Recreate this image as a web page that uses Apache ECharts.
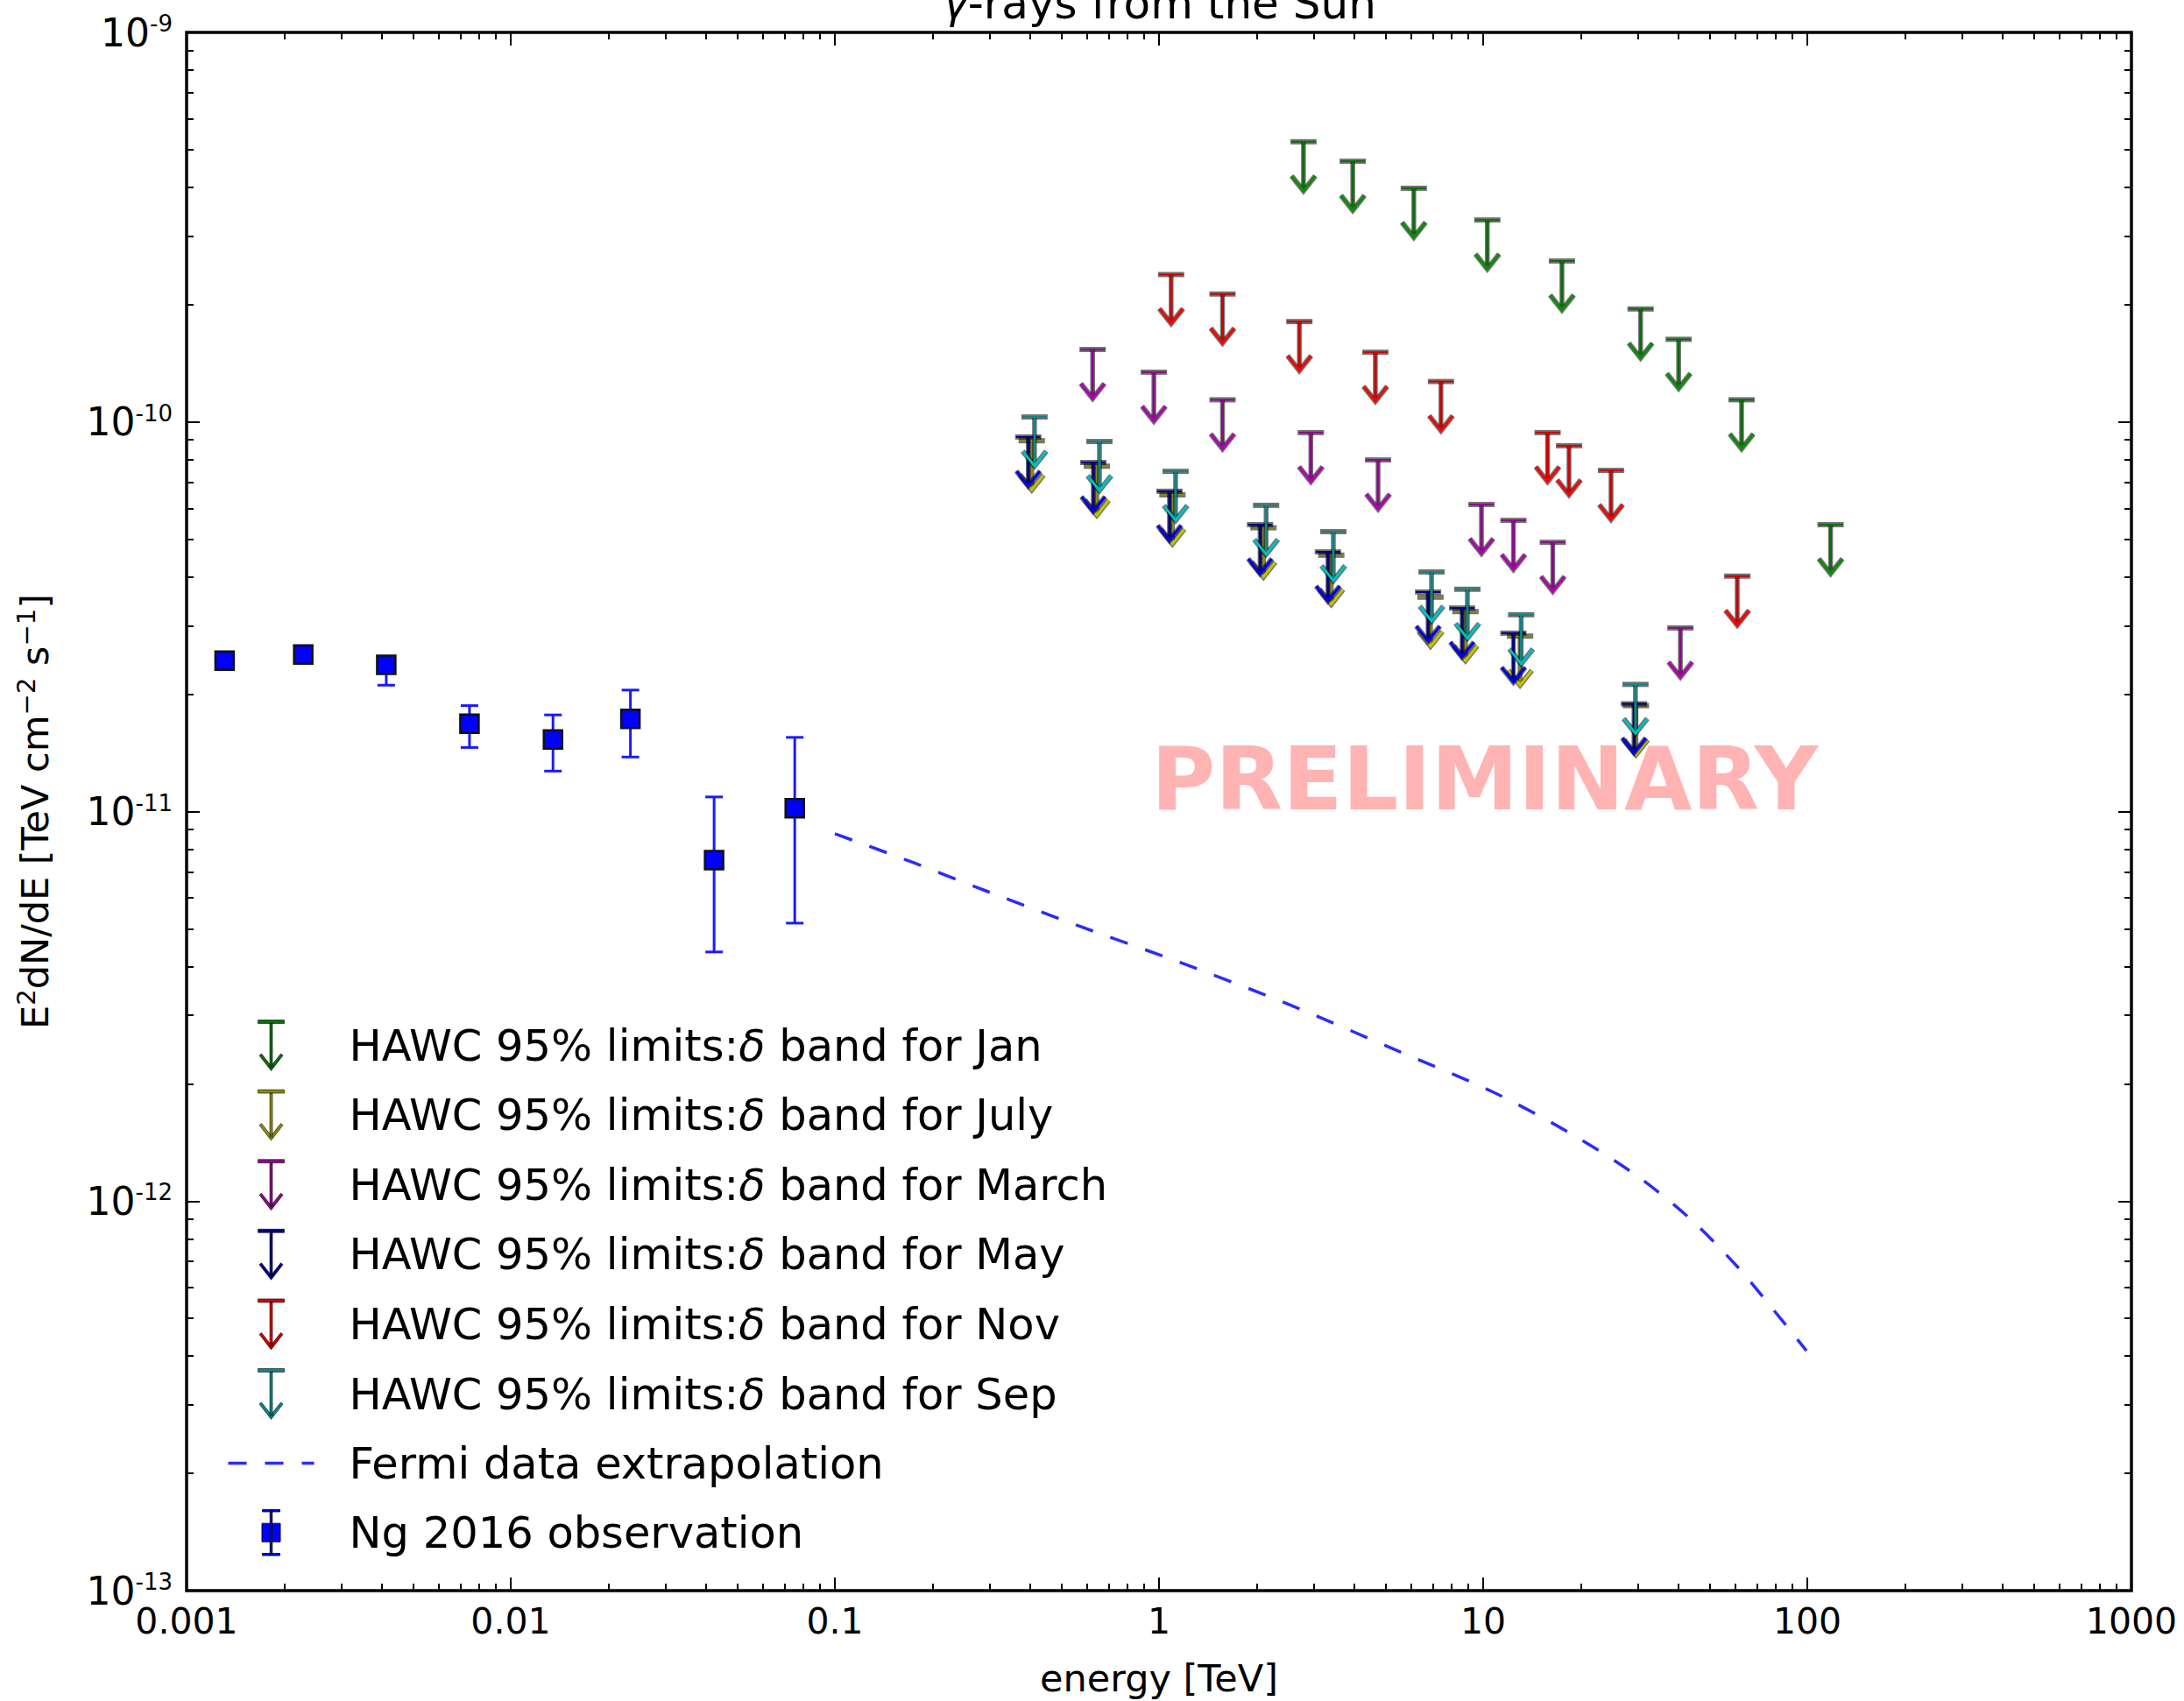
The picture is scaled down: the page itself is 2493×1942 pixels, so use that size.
<!DOCTYPE html>
<html>
<head>
<meta charset="utf-8">
<title>γ-rays from the Sun</title>
<script src="https://cdn.jsdelivr.net/npm/echarts@6.0.0/dist/echarts.min.js"></script>
<style>
  html, body { margin: 0; padding: 0; background: #ffffff; }
  #chart { width: 2493px; height: 1942px; }
</style>
</head>
<body>
<div id="chart"></div>
<script>
// ---- axis ticks ----
const energyTicks = [0.001, 0.01, 0.1, 1, 10, 100, 1000];
const energyTickLabels = ['0.001', '0.01', '0.1', '1', '10', '100', '1000'];
const fluxTicks = [1e-13, 1e-12, 1e-11, 1e-10, 1e-9];
const fluxTickExponents = ['-13', '-12', '-11', '-10', '-9'];
const minorTickSteps = [2, 3, 4, 5, 6, 7, 8, 9];

// ---- HAWC 95% upper limits per delta band: [energy (TeV), E^2 dN/dE] ----
const hawcJan = [[2.79, 5.24e-10], [3.96, 4.67e-10], [6.11, 3.98e-10], [10.3, 3.30e-10], [17.5, 2.59e-10],
                 [30.6, 1.95e-10], [40.1, 1.63e-10], [62.7, 1.14e-10], [118, 5.45e-11]];
const hawcJuly = [[0.405, 8.95e-11], [0.643, 7.70e-11], [1.10, 6.50e-11], [2.10, 5.35e-11], [3.40, 4.55e-11],
                  [6.88, 3.55e-11], [8.82, 3.26e-11], [13.0, 2.82e-11], [29.6, 1.87e-11]];
const hawcMarch = [[0.624, 1.535e-10], [0.964, 1.342e-10], [1.57, 1.14e-10], [2.94, 9.39e-11], [4.74, 7.99e-11],
                   [9.88, 6.14e-11], [12.4, 5.59e-11], [16.4, 4.91e-11], [40.6, 2.96e-11]];
const hawcMay = [[0.395, 9.15e-11], [0.627, 7.87e-11], [1.077, 6.64e-11], [2.05, 5.45e-11], [3.32, 4.64e-11],
                 [6.76, 3.66e-11], [8.61, 3.33e-11], [12.4, 2.87e-11], [29.2, 1.89e-11]];
const hawcNov = [[1.09, 2.39e-10], [1.57, 2.13e-10], [2.71, 1.81e-10], [4.65, 1.51e-10], [7.41, 1.27e-10],
                 [15.8, 9.39e-11], [18.4, 8.69e-11], [24.8, 7.51e-11], [60.8, 4.02e-11]];
const hawcSep = [[0.413, 1.03e-10], [0.655, 8.91e-11], [1.125, 7.47e-11], [2.14, 6.11e-11], [3.45, 5.23e-11],
                 [6.93, 4.12e-11], [8.94, 3.72e-11], [13.1, 3.20e-11], [29.5, 2.12e-11]];

// ---- Fermi extrapolation ----
const fermiEnergy = [0.1, 0.175, 0.279, 0.564, 1.19, 2.53, 5.33, 10.8, 18.9, 30.3, 44.0, 60.8, 76.9, 99.4];
const fermiFlux = [8.77e-12, 7.39e-12, 6.35e-12, 5.09e-12, 4.07e-12, 3.19e-12, 2.45e-12, 1.90e-12,
                   1.48e-12, 1.15e-12, 8.93e-13, 6.79e-13, 5.38e-13, 4.13e-13];

// ---- Ng et al. 2016 measurement ----
const ngEnergy = [0.00131, 0.00229, 0.00413, 0.00746, 0.0135, 0.0234, 0.0424, 0.0752];
const ngFlux   = [2.44e-11, 2.53e-11, 2.38e-11, 1.68e-11, 1.53e-11, 1.73e-11, 7.50e-12, 1.02e-11];
const ngLow    = [2.34e-11, 2.43e-11, 2.11e-11, 1.46e-11, 1.27e-11, 1.38e-11, 4.36e-12, 5.17e-12];
const ngHigh   = [2.54e-11, 2.63e-11, 2.48e-11, 1.87e-11, 1.77e-11, 2.05e-11, 1.09e-11, 1.55e-11];

// ---- styling ----
const FONT = '"DejaVu Sans", sans-serif';
const EDGE = 'rgba(0,0,0,0.55)';
const ARROW = { length: 56, capHalf: 15, headHalf: 13.5, headHeight: 17 };

const months = [
  { name: 'HAWC 95% limits:δ band for Jan',   data: hawcJan,   line: '#0b6e0b', head: '#0b8c0b' },
  { name: 'HAWC 95% limits:δ band for July',  data: hawcJuly,  line: '#8a8a12', head: '#c4c400' },
  { name: 'HAWC 95% limits:δ band for March', data: hawcMarch, line: '#8b0a8b', head: '#b000b0' },
  { name: 'HAWC 95% limits:δ band for May',   data: hawcMay,   line: '#000080', head: '#0000ee' },
  { name: 'HAWC 95% limits:δ band for Nov',   data: hawcNov,   line: '#d00000', head: '#ff0000' },
  { name: 'HAWC 95% limits:δ band for Sep',   data: hawcSep,   line: '#138383', head: '#00c0c0' }
];

// upper-limit arrow: bar at the limit, shaft and head pointing down
function arrowRenderer(lineColor, headColor) {
  return function (params, api) {
    const p = api.coord([api.value(0), api.value(1)]);
    const x = p[0], y0 = p[1], y1 = y0 + ARROW.length;
    const hy = y1 - ARROW.headHeight, hw = ARROW.headHalf, cw = ARROW.capHalf;
    const head = [[x - hw, hy], [x, y1], [x + hw, hy]];
    return {
      type: 'group',
      children: [
        { type: 'line', shape: { x1: x, y1: y0, x2: x, y2: y1 - 3 }, style: { stroke: EDGE, lineWidth: 5.5 } },
        { type: 'polyline', shape: { points: head }, style: { stroke: EDGE, lineWidth: 6, fill: null, lineJoin: 'miter' } },
        { type: 'line', shape: { x1: x - cw, y1: y0, x2: x + cw, y2: y0 }, style: { stroke: EDGE, lineWidth: 6 } },
        { type: 'line', shape: { x1: x, y1: y0, x2: x, y2: y1 - 3 }, style: { stroke: lineColor, lineWidth: 3 } },
        { type: 'polyline', shape: { points: head }, style: { stroke: headColor, lineWidth: 3, fill: null, lineJoin: 'miter' } },
        { type: 'line', shape: { x1: x - cw + 1, y1: y0, x2: x + cw - 1, y2: y0 }, style: { stroke: lineColor, lineWidth: 2 } }
      ]
    };
  };
}

// square marker with vertical error bar
function ngRenderer(params, api) {
  const x = api.value(0);
  const c = api.coord([x, api.value(1)]);
  const lo = api.coord([x, api.value(2)]);
  const hi = api.coord([x, api.value(3)]);
  const blue = '#1a1aff', half = 10.5, cap = 10;
  return {
    type: 'group',
    children: [
      { type: 'line', shape: { x1: c[0], y1: lo[1], x2: c[0], y2: hi[1] }, style: { stroke: blue, lineWidth: 3 } },
      { type: 'line', shape: { x1: c[0] - cap, y1: lo[1], x2: c[0] + cap, y2: lo[1] }, style: { stroke: blue, lineWidth: 3 } },
      { type: 'line', shape: { x1: c[0] - cap, y1: hi[1], x2: c[0] + cap, y2: hi[1] }, style: { stroke: blue, lineWidth: 3 } },
      { type: 'rect', shape: { x: c[0] - half, y: c[1] - half, width: 2 * half, height: 2 * half },
        style: { fill: '#0000ff', stroke: '#111', lineWidth: 2.5 } }
    ]
  };
}

function minorValues(majors) {
  const out = [];
  majors.slice(0, -1).forEach(function (d) { minorTickSteps.forEach(function (k) { out.push(k * d); }); });
  return out;
}

function nearestIndex(ticks, v) {
  let best = 0;
  ticks.forEach(function (t, i) {
    if (Math.abs(Math.log10(t) - Math.log10(v)) < Math.abs(Math.log10(ticks[best]) - Math.log10(v))) best = i;
  });
  return best;
}

function logAxis(kind, position, values, tickLen, label, extra) {
  const ticks = kind === 'x' ? energyTicks : fluxTicks;
  return Object.assign({
    type: 'log', logBase: 10, gridIndex: 0, position: position,
    min: ticks[0], max: ticks[ticks.length - 1],
    axisLine: { show: false },
    splitLine: { show: false },
    axisPointer: { show: false },
    axisTick: { show: true, inside: true, length: tickLen, customValues: values,
                lineStyle: { color: '#000', width: 2 } },
    axisLabel: label || { show: false }
  }, extra || {});
}

const xMinor = minorValues(energyTicks);
const yMinor = minorValues(fluxTicks);

// legend glyphs, laid out in a 98 x 58 box
const ARROW_ICON = 'path://M0,0M98,58M34,0L64,0L64,4L34,4ZM47.5,4L50.5,4L50.5,54L47.5,54Z' +
                   'M35.5,40.5L38,38.5L49,52.5L60,38.5L62.5,40.5L49,58Z';
const DASH_ICON = 'path://M0,0M98,58M0,27.25L21,27.25L21,30.75L0,30.75ZM42,27.25L63,27.25L63,30.75L42,30.75Z' +
                  'M84,27.25L98,27.25L98,30.75L84,30.75Z';
const NG_ICON = 'path://M0,0M98,58M47.75,4L50.25,4L50.25,54L47.75,54ZM39,2.75L59,2.75L59,5.25L39,5.25Z' +
                'M39,52.75L59,52.75L59,55.25L39,55.25ZM38.5,18.5L59.5,18.5L59.5,39.5L38.5,39.5Z';

const chart = echarts.init(document.getElementById('chart'), null, { renderer: 'svg' });

const series = months.map(function (m) {
  return {
    type: 'custom', name: m.name, data: m.data,
    renderItem: arrowRenderer(m.line, m.head),
    itemStyle: { color: m.line }, silent: true, z: 3
  };
});
series.push({
  type: 'line', name: 'Fermi data extrapolation',
  data: fermiEnergy.map(function (e, i) { return [e, fermiFlux[i]]; }),
  symbol: 'none', showSymbol: false, smooth: 0.3, silent: true, z: 2,
  itemStyle: { color: '#2b2bff' },
  lineStyle: { color: '#2b2bff', width: 3.5, type: [21, 21] }
});
series.push({
  type: 'custom', name: 'Ng 2016 observation',
  data: ngEnergy.map(function (e, i) { return [e, ngFlux[i], ngLow[i], ngHigh[i]]; }),
  renderItem: ngRenderer, itemStyle: { color: '#0000ff' }, silent: true, z: 4
});

const option = {
  backgroundColor: '#ffffff',
  animation: false,
  title: {
    text: '{g|γ}-rays from the Sun',
    left: 1323, top: -21, padding: 0, textAlign: 'center',
    textStyle: {
      fontSize: 50, fontWeight: 'normal', fontFamily: FONT, color: '#000', lineHeight: 50,
      rich: { g: { fontSize: 50, fontStyle: 'italic', fontFamily: FONT, color: '#000', lineHeight: 50 } }
    }
  },
  grid: {
    left: 213, right: 60, top: 37, bottom: 126,
    show: true, borderColor: '#000', borderWidth: 3.5, backgroundColor: '#fff',
    containLabel: false, outerBoundsMode: 'none'
  },
  legend: {
    orient: 'vertical', left: 260, top: 1164, padding: 0,
    itemWidth: 98, itemHeight: 58, itemGap: 20.6,
    selectedMode: false, symbolKeepAspect: true,
    textStyle: {
      fontSize: 49.5, fontFamily: FONT, color: '#000', lineHeight: 58, padding: [0, 0, 0, 35],
      rich: { d: { fontSize: 49.5, fontFamily: FONT, fontStyle: 'italic', color: '#000', lineHeight: 58 } }
    },
    formatter: function (name) { return name.replace('δ', '{d|δ}'); },
    data: months.map(function (m) {
      return { name: m.name, icon: ARROW_ICON, itemStyle: { color: m.line, borderColor: EDGE, borderWidth: 1 } };
    }).concat([
      { name: 'Fermi data extrapolation', icon: DASH_ICON, itemStyle: { color: '#2b2bff', borderWidth: 0 } },
      { name: 'Ng 2016 observation', icon: NG_ICON, itemStyle: { color: '#0000ff', borderColor: '#111', borderWidth: 1 } }
    ])
  },
  graphic: [{
    type: 'text', x: 1314, y: 889, z: 1, silent: true,
    style: { text: 'PRELIMINARY', fontSize: 100, fontWeight: 'bold', fontFamily: FONT,
             fill: '#ffb3b3', align: 'left', verticalAlign: 'middle' }
  }],
  xAxis: [
    logAxis('x', 'bottom', energyTicks, 15, {
      show: true, customValues: energyTicks, margin: 14,
      fontSize: 41, lineHeight: 41, fontFamily: FONT, color: '#000',
      formatter: function (v) { return energyTickLabels[nearestIndex(energyTicks, v)]; }
    }, {
      name: 'energy [TeV]', nameLocation: 'middle', nameGap: 75,
      nameTextStyle: { fontSize: 43, fontFamily: FONT, color: '#000', lineHeight: 50 }
    }),
    logAxis('x', 'bottom', xMinor, 8),
    logAxis('x', 'top', energyTicks, 15),
    logAxis('x', 'top', xMinor, 8)
  ],
  yAxis: [
    logAxis('y', 'left', fluxTicks, 15, {
      show: true, customValues: fluxTicks, margin: 16,
      fontFamily: FONT, color: '#000',
      formatter: function (v) { return '{b|10}{s|' + fluxTickExponents[nearestIndex(fluxTicks, v)] + '}'; },
      rich: {
        b: { fontSize: 44, lineHeight: 46, fontFamily: FONT, color: '#000' },
        s: { fontSize: 26, lineHeight: 24, fontFamily: FONT, color: '#000', verticalAlign: 'top' }
      }
    }, {
      name: '{n|E}{s|2}{n|dN/dE [TeV cm}{s|−2}{n| s}{s|−1}{n|]}',
      nameLocation: 'middle', nameGap: 148,
      nameTextStyle: {
        fontFamily: FONT, color: '#000',
        rich: {
          n: { fontSize: 43, lineHeight: 50, fontFamily: FONT, color: '#000' },
          s: { fontSize: 29, lineHeight: 30, fontFamily: FONT, color: '#000', verticalAlign: 'top' }
        }
      }
    }),
    logAxis('y', 'left', yMinor, 8),
    logAxis('y', 'right', fluxTicks, 15),
    logAxis('y', 'right', yMinor, 8)
  ],
  series: series
};

chart.setOption(option);
</script>
</body>
</html>
